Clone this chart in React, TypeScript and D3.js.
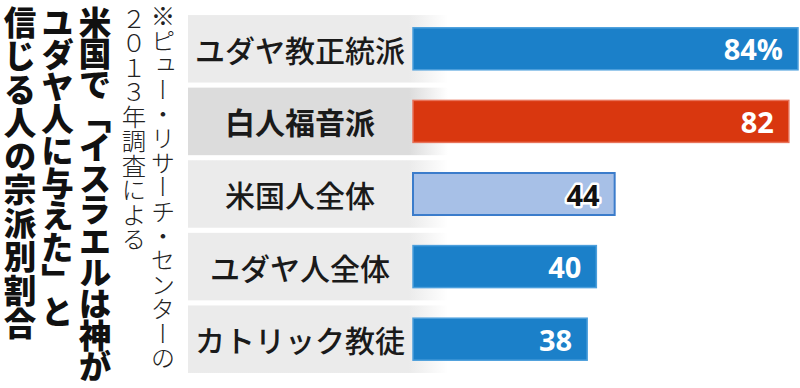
import React from "react";
import * as d3 from "d3";

// 宗派と「イスラエルは神がユダヤ人に与えた」と信じる人の割合（％）
const categories = ["ユダヤ教正統派", "白人福音派", "米国人全体", "ユダヤ人全体", "カトリック教徒"];
const values = [84, 82, 44, 40, 38];
const valueLabels = ["84%", "82", "44", "40", "38"];
const highlight = "白人福音派";
const overall = "米国人全体";

const titleLines = ["米国で「イスラエルは神が", "ユダヤ人に与えた」と", "信じる人の宗派別割合"];
const titleSpacing = [-1.6, -0.7, 0.6];
const noteLines = ["※ピュー・リサーチ・センターの", "２０１３年調査による"];

const W = 800;
const H = 388;
const JP = "'Noto Sans CJK JP', 'Noto Sans', sans-serif";

export default function App() {
  const x = d3.scaleLinear().domain([0, 84]).range([413, 798]);
  const y = d3
    .scaleBand<string>()
    .domain(categories)
    .range([12.5, 375.5])
    .paddingInner(0.07)
    .paddingOuter(0.035);

  const barH = 42;

  const fillFor = (c: string) =>
    c === highlight ? "#d9370f" : c === overall ? "#a7c0e7" : "#1b80c9";
  const strokeFor = (c: string) =>
    c === highlight ? "#e8735a" : c === overall ? "#3b7ccb" : "#4c9fdc";

  return (
    <svg
      width={W}
      height={H}
      style={{ position: "absolute", left: 0, top: 0, background: "#fff" }}
    >
      <defs>
        <linearGradient id="boxFade" x1="0" x2="1" y1="0" y2="0">
          <stop offset="0%" stopColor="#ebebeb" />
          <stop offset="85%" stopColor="#ebebeb" />
          <stop offset="100%" stopColor="#ebebeb" stopOpacity={0} />
        </linearGradient>
        <linearGradient id="boxFadeHi" x1="0" x2="1" y1="0" y2="0">
          <stop offset="0%" stopColor="#dcdcdc" />
          <stop offset="85%" stopColor="#dcdcdc" />
          <stop offset="100%" stopColor="#dcdcdc" stopOpacity={0} />
        </linearGradient>
      </defs>

      {/* title, vertical */}
      {titleLines.map((t, i) => (
        <text
          key={t}
          x={95 - i * 37.5}
          y={6}
          fontFamily={JP}
          fontWeight={900}
          fontSize={32.5}
          fill="#111"
          style={{ writingMode: "vertical-rl", letterSpacing: `${titleSpacing[i] + 0.4}px` }}
        >
          {t}
        </text>
      ))}

      {/* note, vertical */}
      {noteLines.map((t, i) => (
        <text
          key={t}
          x={163 - i * 29}
          y={4 + i * 3}
          fontFamily={JP}
          fontWeight={300}
          fontSize={24.4}
          fill="#222"
          style={{ writingMode: "vertical-rl" }}
        >
          {t}
        </text>
      ))}

      {categories.map((c, i) => {
        const by = y(c)!;
        const cy = by + y.bandwidth() / 2;
        const isOverall = c === overall;
        return (
          <g key={c}>
            <rect
              x={188}
              y={by}
              width={260}
              height={y.bandwidth()}
              fill={c === highlight ? "url(#boxFadeHi)" : "url(#boxFade)"}
            />
            <text
              x={300}
              y={cy}
              textAnchor="middle"
              dominantBaseline="central"
              fontFamily={JP}
              fontWeight={c === highlight ? 700 : 500}
              fontSize={30}
              fill="#1a1a1a"
            >
              {c}
            </text>
            <rect
              x={x(0)}
              y={cy - barH / 2}
              width={x(values[i]) - x(0)}
              height={barH}
              fill={fillFor(c)}
              stroke={strokeFor(c)}
              strokeWidth={isOverall ? 2 : 1.5}
            />
            <text
              x={x(values[i]) - 15}
              y={cy}
              textAnchor="end"
              dominantBaseline="central"
              fontFamily="'Open Sans', sans-serif"
              fontWeight={700}
              fontSize={29}
              fill={isOverall ? "#111" : "#fff"}
              stroke={isOverall ? "#fff" : "none"}
              strokeWidth={isOverall ? 5 : 0}
              strokeLinejoin="round"
              style={{ paintOrder: "stroke" }}
            >
              {valueLabels[i]}
            </text>
          </g>
        );
      })}
    </svg>
  );
}
